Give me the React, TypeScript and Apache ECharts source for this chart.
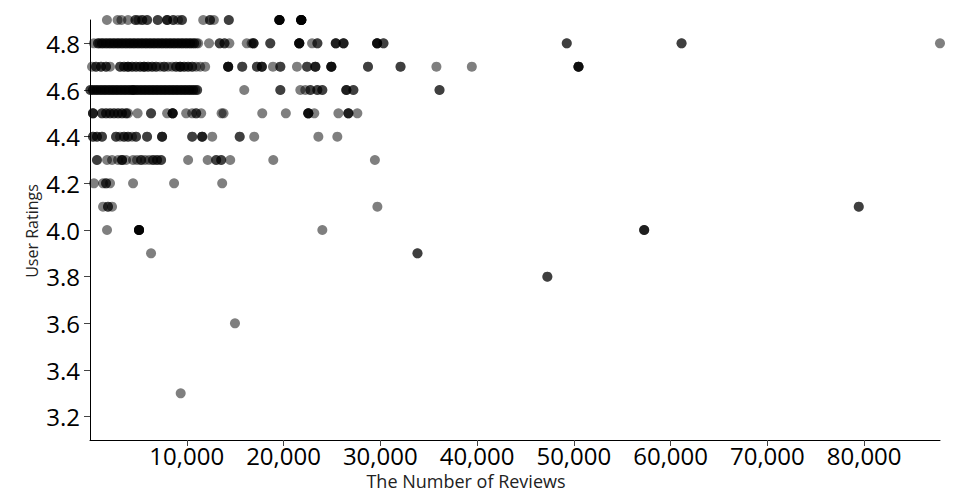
import React, { useEffect, useRef } from "react";
import * as echarts from "echarts";

// Number of reviews for each book, grouped by user rating (duplicates = same book in several years)
const reviews49 = [1750, 2850, 3250, 3930, 4700, 4700, 5000, 5400, 5400, 5900, 5900, 7000, 7000, 7970, 7970, 7970, 8600, 8600, 9100, 9500, 9500, 11700, 12400, 12400, 12800, 14344, 14344,
  19576, 19576, 19576, 19576, 19576, 19576, 21834, 21834, 21834, 21834, 21834, 21834, 21834, 21834];
const reviews48 = [400,
  830, 830, 1012, 1240, 1240, 1420, 1660, 1660, 1873, 2070, 2070, 2290, 2480, 2480, 2710, 2900, 2900, 3100, 3310, 3310, 3520, 3730, 3730, 3950,
  4140, 4140, 4360, 4550, 4550, 4760, 4970, 4970, 5180, 5380, 5380, 5600, 5800, 5800, 6010, 6210, 6210, 6420, 6620, 6620, 6830, 7040, 7040, 7250,
  7450, 7450, 7660, 7870, 7870, 8080, 8280, 8280, 8490, 8690, 8690, 8900, 9110, 9110, 9320, 9520, 9520, 9730, 9940, 9940, 10150, 10350, 10350,
  10560, 10760, 10760, 11000, 11180,
  12300, 13400, 13400, 13900, 13900, 14400, 16200, 16700, 16900, 16900, 16900, 18630, 18630,
  21625, 21625, 21625, 21625, 21625, 22950, 23500, 23500, 25400, 25400, 25400, 26200, 26200, 26200,
  29673, 29673, 29673, 29673, 30330, 30330, 49270, 49270, 61133, 61133, 87841];
const reviews47 = [210, 620, 620, 1140, 1140, 1660, 1660, 2070,
  3105, 3105, 3520, 3520, 3930, 3930, 3930, 4350, 4350, 4760, 4760, 5180, 5180, 5590, 5590, 5590, 6000, 6000, 6420, 6420, 6830, 6830, 7250,
  7660, 7660, 8070, 8490, 8900, 8900, 9320, 9320, 9320, 9730, 9730, 10140, 10140, 10560, 10560, 10970, 11390, 11900,
  14280, 14280, 14280, 14280, 15730, 15730, 17250, 17250, 17760, 17760, 17760, 18910, 19670, 19670, 21390, 22430, 22430,
  23290, 23290, 23290, 24940, 24940, 24940, 24940, 28729, 28729, 32090, 32090, 35799, 39459, 50482, 50482, 50482, 50482];
const reviews46 = [40, 40, 310, 310, 520, 720, 720, 930, 1140, 1140, 1350, 1550, 1550, 1760, 1970, 1970, 2180, 2380, 2380, 2590, 2790, 2790,
  3000, 3210, 3210, 3420, 3620, 3620, 3830, 4040, 4040, 4250, 4450, 4450, 4450, 4660, 4860, 4860, 5070, 5280, 5280, 5490, 5690, 5690,
  5900, 6110, 6110, 6320, 6520, 6520, 6730, 6930, 6930, 7140, 7350, 7350, 7560, 7760, 7760, 7970, 8180, 8180, 8390, 8590, 8590,
  8800, 9000, 9000, 9210, 9420, 9420, 9630, 9830, 9830, 10040, 10250, 10250, 10450, 10660, 10660, 10870, 11070, 11070,
  15940, 19670, 19670, 21735, 22250, 22770, 22770, 23490, 23490, 24010, 24010, 26490, 26490, 26490, 27220, 27220, 36120, 36120];
const reviews45 = [310, 310, 310, 1240, 1240, 1660, 1660, 2070, 2070, 2480, 2480, 2900, 2900, 3310, 3310, 3730, 3730, 3930, 4920,
  6310, 6310, 7970, 8540, 8540, 8540, 8540, 9940, 10560, 10970, 10970, 11490, 13600, 13800, 17800, 20240,
  22560, 22560, 22560, 22560, 23180, 25670, 26700, 26700, 26700, 27630];
const reviews44 = [310, 310, 720, 720, 1240, 1240, 2690, 2690, 3100, 3520, 3520, 3930, 3930, 4350, 4760, 4760, 5900, 5900,
  7450, 7450, 7450, 10560, 10560, 11590, 11590, 11590, 12630, 15470, 15470, 16970, 23600, 25560];
const reviews43 = [720, 720, 1760, 2280, 2900, 3310, 3310, 3310, 3730, 4450, 4860, 5280, 5280, 5690, 6110, 6520, 6520, 6930, 6930,
  7350, 7350, 10140, 12160, 13040, 13040, 13560, 13560, 14490, 18940, 29442];
const reviews42 = [410, 1350, 1660, 1660, 2070, 4450, 8690, 13660];
const reviews41 = [1350, 1860, 1860, 2280, 29700, 79446, 79446];
const reviews40 = [1760, 5069, 5069, 5069, 5069, 5069, 5069, 24010, 57271, 57271, 57271];
const reviews39 = [6310, 33844, 33844];
const reviews38 = [47265, 47265];
const reviews36 = [14982];
const reviews33 = [9372];

const ratingRows: [number, number[]][] = [
  [4.9, reviews49], [4.8, reviews48], [4.7, reviews47], [4.6, reviews46], [4.5, reviews45],
  [4.4, reviews44], [4.3, reviews43], [4.2, reviews42], [4.1, reviews41], [4.0, reviews40],
  [3.9, reviews39], [3.8, reviews38], [3.6, reviews36], [3.3, reviews33],
];

const X_MAX = 87841;
const Y_MIN = 3.1;
const Y_MAX = 4.9;

export default function App() {
  const ref = useRef<HTMLDivElement>(null);
  useEffect(() => {
    document.body.style.margin = "0";
    if (!ref.current) return;
    const chart = echarts.init(ref.current, undefined, { renderer: "svg" });
    const data = ratingRows.flatMap(([r, xs]) => xs.map((x) => [x, r]));
    const font = "Open Sans";
    chart.setOption({
      animation: false,
      grid: { left: 90, right: 20, top: 20, bottom: 60 },
      xAxis: {
        type: "value",
        min: 0,
        max: X_MAX,
        interval: 10000,
        splitLine: { show: false },
        axisLine: { show: true, lineStyle: { color: "#000", width: 1 } },
        axisTick: { show: true, length: 6, lineStyle: { color: "#444" } },
        axisLabel: {
          fontFamily: font,
          fontSize: 24,
          color: "#000",
          margin: 3,
          showMinLabel: false,
          showMaxLabel: false,
          formatter: (v: number) => (v === 0 || v % 10000 !== 0 ? "" : v.toLocaleString("en-US")),
        },
      },
      yAxis: {
        type: "value",
        min: Y_MIN,
        max: Y_MAX,
        splitNumber: 9,
        splitLine: { show: false },
        axisLine: { show: true, lineStyle: { color: "#000", width: 1 } },
        axisTick: { show: true, length: 6, lineStyle: { color: "#444" } },
        axisLabel: {
          fontFamily: font,
          fontSize: 24,
          color: "#000",
          margin: 10,
          showMinLabel: false,
          showMaxLabel: false,
          formatter: (v: number) => v.toFixed(1),
        },
      },
      graphic: [
        {
          type: "text",
          x: 32,
          y: 231,
          rotation: Math.PI / 2,
          style: { text: "User Ratings", fontFamily: font, fontSize: 16, fill: "#222", align: "center", verticalAlign: "middle" },
        },
        {
          type: "text",
          x: 466,
          y: 481,
          style: { text: "The Number of Reviews", fontFamily: font, fontSize: 18, fill: "#222", align: "center", verticalAlign: "middle" },
        },
      ],
      series: [
        {
          type: "scatter",
          data,
          symbol: "circle",
          symbolSize: 10,
          clip: false,
          silent: true,
          itemStyle: { color: "#000", opacity: 0.5 },
        },
      ],
    });
    return () => chart.dispose();
  }, []);
  return <div ref={ref} style={{ width: 960, height: 500 }} />;
}
